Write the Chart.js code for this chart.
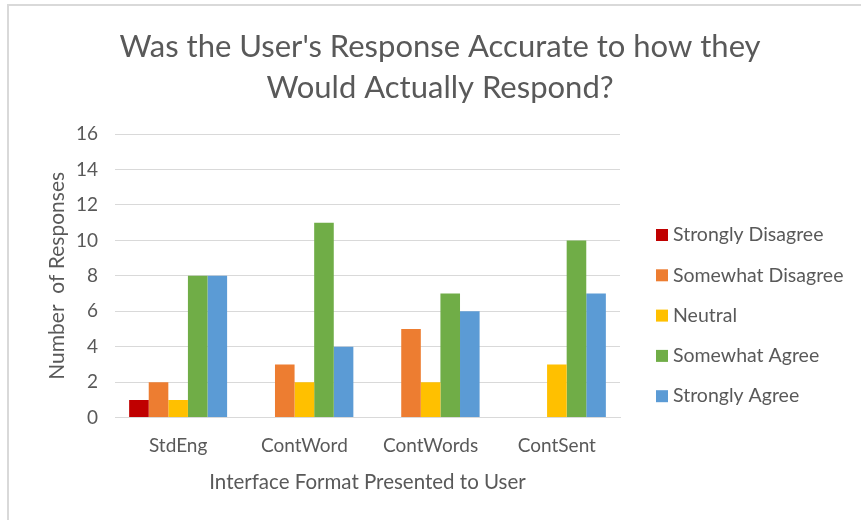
<!DOCTYPE html>
<html>
<head>
<meta charset="utf-8">
<script src="https://cdn.jsdelivr.net/npm/chart.js@4/dist/chart.umd.min.js"></script>
<style>
  html, body { margin: 0; padding: 0; background: #fff; }
  #wrap { position: relative; width: 861px; height: 520px; overflow: hidden; }
  #frame { position: absolute; left: 7px; top: 4px; right: -10px; bottom: -10px;
           border-left: 2px solid #d9d9d9; border-top: 2px solid #d9d9d9; }
  canvas { position: absolute; left: 0; top: 0; }
</style>
</head>
<body>
<div id="wrap">
  <div id="frame"></div>
  <canvas id="chart" width="861" height="520"></canvas>
</div>
<script>
// categories and counts per response level
const formats = ['StdEng', 'ContWord', 'ContWords', 'ContSent'];
const stronglyDisagree = [1, 0, 0, 0];
const somewhatDisagree = [2, 3, 5, 0];
const neutral = [1, 2, 2, 3];
const somewhatAgree = [8, 11, 7, 10];
const stronglyAgree = [8, 4, 6, 7];
const yTicks = [0, 2, 4, 6, 8, 10, 12, 14, 16];

const textColor = '#595959';
const gridColor = '#d9d9d9';
const fontFamily = 'Lato, "Open Sans", sans-serif';

const series = [
  { label: 'Strongly Disagree', data: stronglyDisagree, color: '#c00000' },
  { label: 'Somewhat Disagree', data: somewhatDisagree, color: '#ed7d31' },
  { label: 'Neutral', data: neutral, color: '#ffc000' },
  { label: 'Somewhat Agree', data: somewhatAgree, color: '#70ad47' },
  { label: 'Strongly Agree', data: stronglyAgree, color: '#5b9bd5' }
];

// legend drawn as a plain column to the right of the plot
const sideLegend = {
  id: 'sideLegend',
  afterDraw(chart) {
    const ctx = chart.ctx;
    const x = chart.chartArea.right + 36;
    const top = 235;
    const step = 40.3;
    ctx.save();
    ctx.font = `19.5px ${fontFamily}`;
    ctx.textBaseline = 'middle';
    ctx.textAlign = 'left';
    chart.data.datasets.forEach((ds, i) => {
      const y = top + i * step;
      ctx.fillStyle = ds.backgroundColor;
      ctx.fillRect(x, y - 6, 12, 12);
      ctx.fillStyle = textColor;
      ctx.fillText(ds.label, x + 17, y);
    });
    ctx.restore();
  }
};

new Chart(document.getElementById('chart'), {
  type: 'bar',
  data: {
    labels: formats,
    datasets: series.map(s => ({
      label: s.label,
      data: s.data,
      backgroundColor: s.color,
      borderWidth: 0,
      categoryPercentage: 0.776,
      barPercentage: 1.0
    }))
  },
  plugins: [sideLegend],
  options: {
    responsive: false,
    animation: false,
    layout: { padding: { left: 33, right: 14, top: 4, bottom: 25.7 } },
    scales: {
      x: {
        grid: { display: false },
        border: { color: gridColor, width: 1 },
        ticks: { color: textColor, font: { family: fontFamily, size: 19 }, padding: 9 },
        title: {
          display: true,
          text: 'Interface Format Presented to User',
          color: textColor,
          font: { family: fontFamily, size: 20.5 },
          padding: { top: 3.3, bottom: 0 }
        }
      },
      y: {
        min: 0,
        max: 16,
        afterBuildTicks: scale => { scale.ticks = yTicks.map(v => ({ value: v })); },
        afterFit: scale => { scale.width = 82; },
        grid: { color: gridColor, lineWidth: 1, drawTicks: false },
        border: { display: false },
        ticks: { color: textColor, font: { family: fontFamily, size: 19 }, padding: 17 },
        title: {
          display: true,
          text: 'Number  of Responses',
          color: textColor,
          font: { family: fontFamily, size: 21 },
          padding: { top: 11.4, bottom: 6.4 }
        }
      },
      // empty axis that keeps room for the legend column
      gap: {
        position: 'right',
        display: true,
        grid: { display: false },
        border: { display: false },
        ticks: { display: false },
        afterFit: scale => { scale.width = 227; }
      }
    },
    plugins: {
      title: {
        display: true,
        text: ["Was the User's Response Accurate to how they", 'Would Actually Respond?'],
        color: textColor,
        font: { family: fontFamily, size: 31, weight: 'normal', lineHeight: 1.32 },
        padding: { top: 22.5, bottom: 25.7 }
      },
      legend: { display: false },
      tooltip: { enabled: false }
    }
  }
});
</script>
</body>
</html>
